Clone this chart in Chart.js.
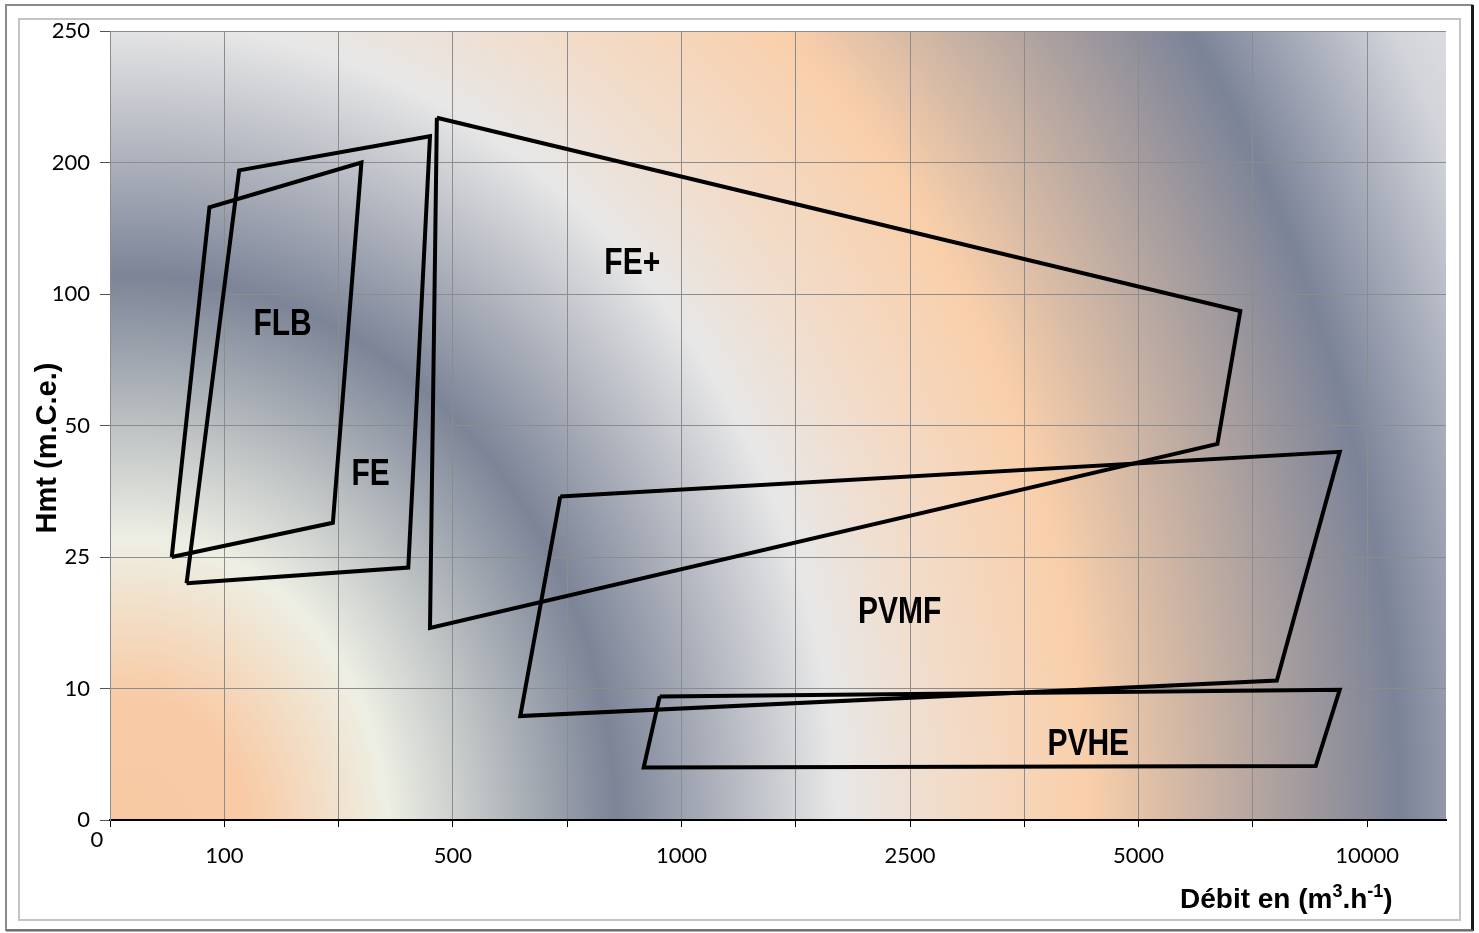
<!DOCTYPE html>
<html>
<head>
<meta charset="utf-8">
<script src="https://cdn.jsdelivr.net/npm/chart.js@4.4.0/dist/chart.umd.min.js"></script>
<style>
  html, body { margin: 0; padding: 0; background: #fff; }
  #wrap { width: 1479px; height: 933px; position: relative; }
</style>
</head>
<body>
<div id="wrap"><canvas id="pumpChart"></canvas></div>
<script>
// Both axes use evenly spaced steps; these are the values printed at each step
const yTickLabels = ['0', '10', '25', '50', '100', '200', '250'];
const xTickLabels = ['0', '100', '', '500', '', '1000', '', '2500', '', '5000', '', '10000'];
const xMax = 11.69;

// Operating ranges per pump family (x = flow step, y = head step), closed outlines
const flbX = [0.54, 0.87, 2.20, 1.95, 0.54];
const flbY = [2.00, 4.66, 5.00, 2.26, 2.00];
const feX = [0.67, 1.13, 2.80, 2.61, 0.67];
const feY = [1.80, 4.94, 5.20, 1.92, 1.80];
const fePlusX = [2.86, 9.89, 9.69, 2.80, 2.86];
const fePlusY = [5.34, 3.87, 2.86, 1.46, 5.34];
const pvmfX = [3.94, 10.76, 10.21, 3.59, 3.94];
const pvmfY = [2.46, 2.80, 1.06, 0.79, 2.46];
const pvheX = [4.81, 10.76, 10.55, 4.67, 4.81];
const pvheY = [0.94, 0.99, 0.41, 0.40, 0.94];

const zoneNames = ['FLB', 'FE', 'FE+', 'PVMF', 'PVHE'];
const zoneLabelX = [1.51, 2.28, 4.57, 6.91, 8.56];
const zoneLabelY = [3.79, 2.65, 4.25, 1.60, 0.59];

const outlines = [[flbX, flbY], [feX, feY], [fePlusX, fePlusY], [pvmfX, pvmfY], [pvheX, pvheY]];

const datasets = outlines.map(([xs, ys], i) => ({
    label: zoneNames[i],
    data: xs.map((x, k) => ({ x: x, y: ys[k] })),
    showLine: true,
    fill: false,
    borderColor: '#000',
    borderWidth: 4,
    borderJoinStyle: 'miter',
    pointRadius: 0,
    pointHoverRadius: 0,
    tension: 0
}));

// White page, double frame and the banded plot background
const frameAndBackground = {
    id: 'frameAndBackground',
    beforeDraw(chart) {
        const { ctx, chartArea: a, width, height } = chart;
        ctx.save();
        ctx.fillStyle = '#fff';
        ctx.fillRect(0, 0, width, height);

        ctx.strokeStyle = '#8a8a8a';
        ctx.lineWidth = 2;
        ctx.strokeRect(6, 5, 1466, 925);
        ctx.strokeStyle = '#1a1a1a';
        ctx.lineWidth = 3;
        ctx.beginPath();
        ctx.moveTo(1472.5, 5);
        ctx.lineTo(1472.5, 931);
        ctx.stroke();
        ctx.strokeStyle = '#6a6a6a';
        ctx.lineWidth = 2;
        ctx.beginPath();
        ctx.moveTo(6, 930.5);
        ctx.lineTo(1473, 930.5);
        ctx.stroke();
        ctx.strokeStyle = '#c4c4c4';
        ctx.lineWidth = 2;
        ctx.strokeRect(19, 19, 1441, 901);

        ctx.beginPath();
        ctx.rect(a.left, a.top, a.right - a.left, a.bottom - a.top);
        ctx.clip();
        ctx.translate(a.left + 20, a.bottom + 15);
        ctx.scale(1, 1.15);
        const r = 1520;
        const g = ctx.createRadialGradient(0, 0, 0, 0, 0, r);
        g.addColorStop(0.00, '#f7c8a2');
        g.addColorStop(0.08, '#f8cba6');
        g.addColorStop(0.17, '#edefe4');
        g.addColorStop(0.32, '#7c8497');
        g.addColorStop(0.465, '#e7e7e7');
        g.addColorStop(0.53, '#f1ddcc');
        g.addColorStop(0.63, '#f9cfaa');
        g.addColorStop(0.836, '#7b8398');
        g.addColorStop(0.95, '#d2d4da');
        g.addColorStop(1.00, '#e0e1e4');
        ctx.fillStyle = g;
        ctx.fillRect(-40, -r, r + 40, r + 40);
        ctx.restore();
    }
};

// Zone names, axis titles and the origin label
const chartTexts = {
    id: 'chartTexts',
    afterDraw(chart) {
        const { ctx, scales } = chart;
        ctx.save();
        ctx.fillStyle = '#000';

        ctx.font = 'bold 30px "Liberation Sans", Arial, sans-serif';
        ctx.textAlign = 'center';
        ctx.textBaseline = 'alphabetic';
        zoneNames.forEach((name, i) => {
            const px = scales.x.getPixelForValue(zoneLabelX[i]);
            const py = scales.y.getPixelForValue(zoneLabelY[i]);
            ctx.save();
            ctx.translate(px, py + 13);
            ctx.scale(1, 1.2);
            ctx.fillText(name, 0, 0);
            ctx.restore();
        });

        // vertical axis title
        ctx.save();
        ctx.translate(56, 448);
        ctx.rotate(-Math.PI / 2);
        ctx.font = 'bold 29px "Liberation Sans", Arial, sans-serif';
        ctx.textAlign = 'center';
        ctx.fillText('Hmt (m.C.e.)', 0, 0);
        ctx.restore();

        // horizontal axis title with superscripts
        const parts = [
            ['Débit en (m', 0], ['3', 1], ['.h', 0], ['-1', 1], [')', 0]
        ];
        let x = 1180;
        const base = 908;
        ctx.textAlign = 'left';
        parts.forEach(([t, sup]) => {
            ctx.font = sup ? 'bold 18px "Liberation Sans", Arial, sans-serif'
                           : 'bold 28px "Liberation Sans", Arial, sans-serif';
            ctx.fillText(t, x, sup ? base - 11 : base);
            x += ctx.measureText(t).width;
        });

        ctx.font = '22px Lato, sans-serif';
        ctx.textAlign = 'center';
        ctx.textBaseline = 'middle';
        ctx.fillText(xTickLabels[0], 97, 840);
        ctx.restore();
    }
};

new Chart(document.getElementById('pumpChart').getContext('2d'), {
    type: 'scatter',
    data: { datasets: datasets },
    options: {
        responsive: true,
        maintainAspectRatio: false,
        animation: false,
        layout: { padding: { top: 31, right: 33, left: 0, bottom: 0 } },
        plugins: {
            legend: { display: false },
            tooltip: { enabled: false }
        },
        scales: {
            x: {
                type: 'linear',
                min: 0,
                max: xMax,
                afterFit(scale) { scale.height = 113; },
                grid: { color: '#8c8c8c', lineWidth: 1, tickLength: 7, tickColor: '#000' },
                border: { color: '#000', width: 2 },
                ticks: {
                    stepSize: 1,
                    autoSkip: false,
                    includeBounds: false,
                    maxRotation: 0,
                    padding: 16,
                    color: '#000',
                    font: { family: 'Lato', size: 22 },
                    callback: (v) => (v === 0 ? '' : (xTickLabels[v] || ''))
                }
            },
            y: {
                type: 'linear',
                min: 0,
                max: 6,
                afterFit(scale) { scale.width = 110; },
                grid: { color: '#8c8c8c', lineWidth: 1, tickLength: 10, tickColor: '#555' },
                border: { color: '#8c8c8c', width: 1 },
                ticks: {
                    stepSize: 1,
                    autoSkip: false,
                    padding: 10,
                    color: '#000',
                    font: { family: 'Lato', size: 22 },
                    callback: (v) => yTickLabels[v] || ''
                }
            }
        }
    },
    plugins: [frameAndBackground, chartTexts]
});
</script>
</body>
</html>
